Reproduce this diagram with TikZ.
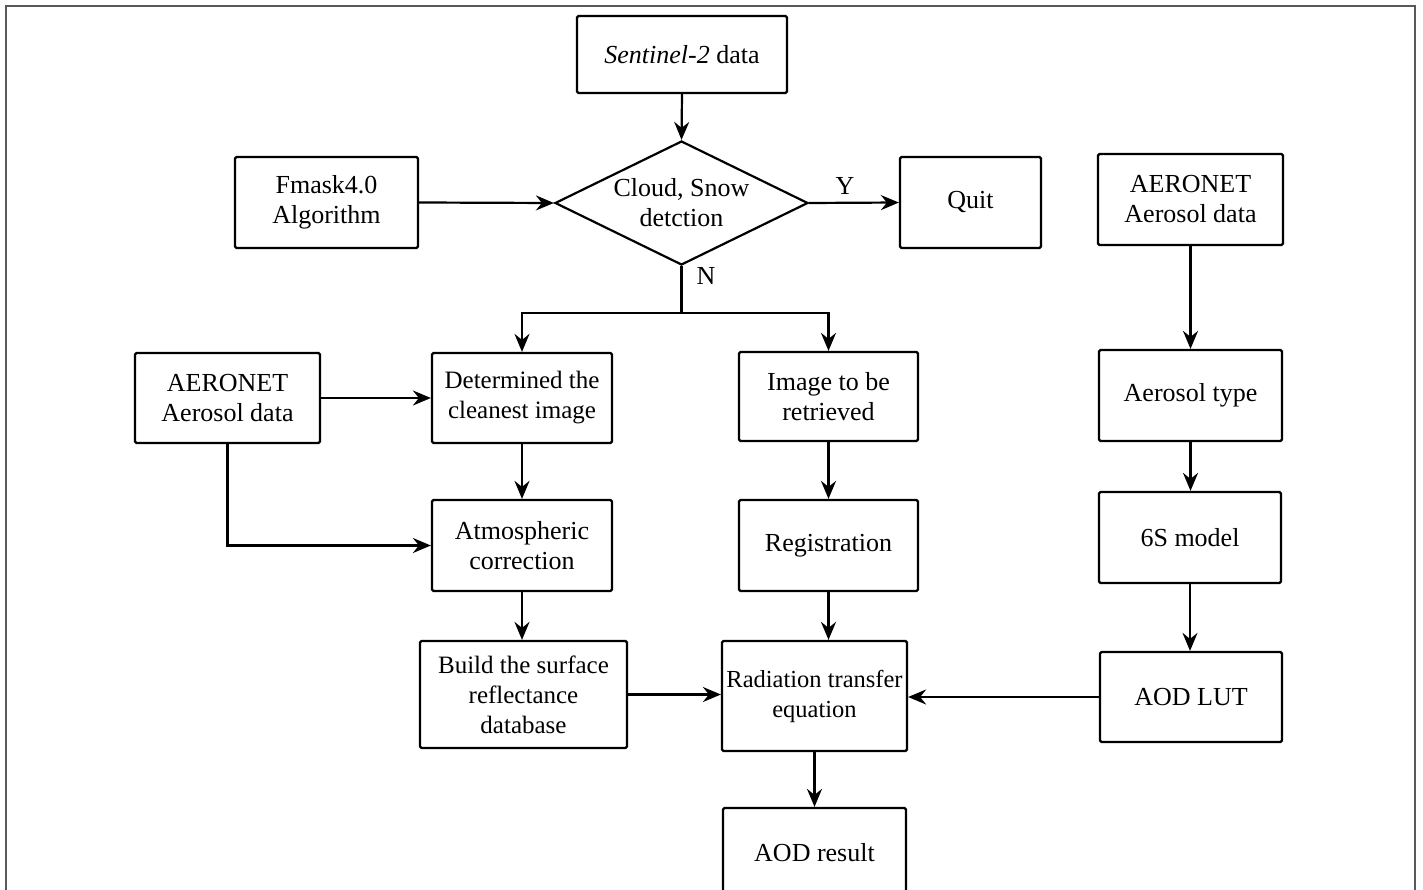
\documentclass[tikz,border=0pt]{standalone}
\usepackage{fontspec}
\setmainfont{Liberation Serif}
\usetikzlibrary{arrows.meta,shapes.geometric}
\begin{document}
\begin{tikzpicture}[x=1pt,y=-1pt,
  box/.style={draw, line width=2.2pt, rounded corners=1.5pt, align=center, inner sep=0pt,
    font=\fontsize{26}{30}\selectfont},
  conn/.style={line width=2.2pt, -{Stealth[length=18pt,width=15pt,inset=6pt]}},
  lbl/.style={font=\fontsize{26}{30}\selectfont, inner sep=0pt}]
\useasboundingbox (0,0) rectangle (1423,890);
\draw[line width=2pt, color=black!65] (6,900) -- (6,6) -- (1415,6) -- (1415,900);

\node[box, minimum width=210, minimum height=77] (sent) at (682,54.5) {\textit{Sentinel-2} data};
\node[box, minimum width=183, minimum height=91] (fmask) at (326.5,202.5) {Fmask4.0\\Algorithm};
\node[box, diamond, aspect=2.04, minimum width=253, minimum height=124, rounded corners=0pt] (dia) at (681.5,203) {Cloud, Snow\\detction};
\node[box, minimum width=141, minimum height=91] (quit) at (970.5,202.5) {Quit};
\node[box, minimum width=185, minimum height=91] (aerR) at (1190.5,199.5) {AERONET\\Aerosol data};
\node[box, minimum width=185, minimum height=90] (aerL) at (227.5,398) {AERONET\\Aerosol data};
\node[box, minimum width=180, minimum height=90, font=\fontsize{25}{30}\selectfont] (det) at (522,398) {Determined the\\cleanest image};
\node[box, minimum width=179, minimum height=89] (img) at (828.5,396.5) {Image to be\\retrieved};
\node[box, minimum width=183, minimum height=91] (atype) at (1190.5,395.5) {Aerosol type};
\node[box, minimum width=180, minimum height=91] (atm) at (522,545.5) {Atmospheric\\correction};
\node[box, minimum width=179, minimum height=91] (reg) at (828.5,545.5) {Registration};
\node[box, minimum width=182, minimum height=91] (six) at (1190,537.5) {6S model};
\node[box, minimum width=207, minimum height=107, font=\fontsize{25}{30}\selectfont] (build) at (523.5,694.5) {Build the surface\\reflectance\\database};
\node[box, minimum width=185, minimum height=110, font=\fontsize{24.5}{30}\selectfont] (rad) at (814.5,696) {Radiation transfer\\equation};
\node[box, minimum width=182, minimum height=90] (lut) at (1191,697) {AOD LUT};
\node[box, minimum width=183, minimum height=90] (res) at (814.5,853) {AOD result};

\node[lbl] (ylab) at (845,186) {Y};
\node[lbl] (nlab) at (706,276) {N};
\coordinate (split) at (681.5,313);

\draw[conn] (sent.south) -- (dia.north);
\draw[conn] (fmask.east) -- (dia.west);
\draw[conn] (dia.east) -- (quit.west);
\draw[line width=2.2pt] (dia.south) -- (split);
\draw[conn] (split) -| (det.north);
\draw[conn] (split) -| (img.north);
\draw[conn] (aerL.east) -- (det.west);
\draw[conn] (aerL.south) |- (atm.west);
\draw[conn] (det.south) -- (atm.north);
\draw[conn] (atm.south) -- (atm.south |- build.north);
\draw[conn] (img.south) -- (reg.north);
\draw[conn] (reg.south) -- (reg.south |- rad.north);
\draw[conn] (build.east) -- (build.east -| rad.west);
\draw[conn] (lut.west) -- (lut.west -| rad.east);
\draw[conn] (aerR.south) -- (aerR.south |- atype.north);
\draw[conn] (atype.south) -- (atype.south |- six.north);
\draw[conn] (six.south) -- (six.south |- lut.north);
\draw[conn] (rad.south) -- (res.north);
\end{tikzpicture}
\end{document}
